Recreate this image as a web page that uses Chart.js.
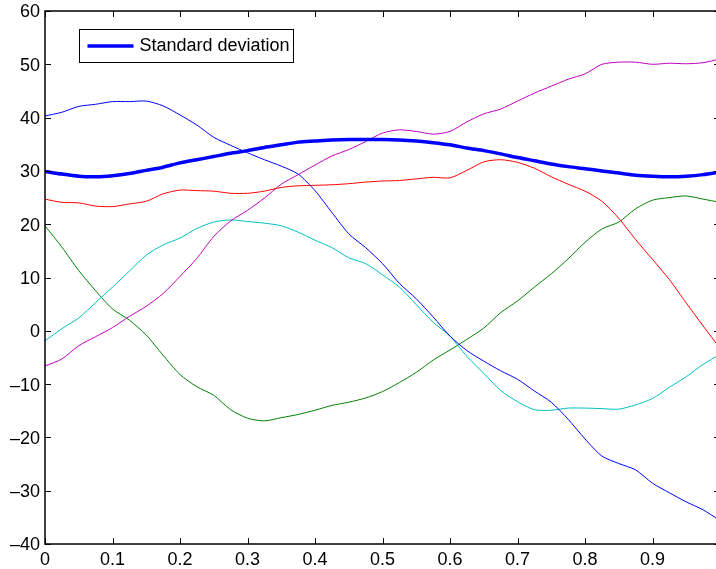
<!DOCTYPE html>
<html>
<head>
<meta charset="utf-8">
<script src="https://cdn.jsdelivr.net/npm/chart.js@4/dist/chart.umd.min.js"></script>
<style>
	html, body { margin: 0; padding: 0; background: #fff; }
	#wrap { position: relative; width: 716px; height: 569px; }
</style>
</head>
<body>
<div id="wrap"><canvas id="chart"></canvas></div>
<script>
const xValues = [0, 0.025, 0.05, 0.075, 0.1, 0.125, 0.15, 0.175, 0.2, 0.225, 0.25, 0.275, 0.3, 0.325, 0.35, 0.375, 0.4, 0.425, 0.45, 0.475, 0.5, 0.525, 0.55, 0.575, 0.6, 0.625, 0.65, 0.675, 0.7, 0.725, 0.75, 0.775, 0.8, 0.825, 0.85, 0.875, 0.9, 0.925, 0.95, 0.975, 1];

const stdDev = [29.9, 29.4, 29.0, 28.9, 29.1, 29.5, 30.1, 30.7, 31.5, 32.1, 32.7, 33.3, 33.8, 34.4, 34.9, 35.4, 35.6, 35.8, 35.9, 35.9, 35.9, 35.8, 35.6, 35.3, 34.9, 34.3, 33.8, 33.2, 32.5, 31.9, 31.3, 30.8, 30.4, 30.0, 29.6, 29.2, 29.0, 28.9, 29.0, 29.3, 29.8];
const blueSeries = [40.3, 41.0, 42.1, 42.5, 43.0, 43.0, 43.1, 42.2, 40.5, 38.6, 36.3, 34.8, 33.4, 32.1, 30.9, 29.4, 26.3, 22.2, 18.2, 15.6, 12.6, 8.9, 6.0, 2.6, -1.0, -3.7, -5.7, -7.5, -9.1, -11.3, -13.4, -16.6, -20.3, -23.5, -24.9, -26.1, -28.6, -30.4, -32.1, -33.6, -35.6];
const redSeries = [24.7, 24.1, 24.0, 23.4, 23.3, 23.8, 24.3, 25.7, 26.4, 26.3, 26.2, 25.8, 25.8, 26.2, 26.9, 27.2, 27.3, 27.4, 27.6, 27.9, 28.1, 28.2, 28.5, 28.8, 28.7, 30.1, 31.7, 32.1, 31.6, 30.5, 28.9, 27.5, 26.2, 24.3, 21.1, 17.1, 13.4, 9.6, 5.2, 0.9, -3.3];
const magentaSeries = [-6.6, -5.3, -2.8, -1.1, 0.6, 2.7, 4.6, 7.0, 10.2, 13.6, 17.7, 20.6, 22.6, 24.9, 27.5, 29.3, 31.1, 32.8, 34.0, 35.5, 37.1, 37.7, 37.4, 36.9, 37.4, 39.2, 40.7, 41.6, 43.1, 44.6, 45.9, 47.2, 48.2, 50.0, 50.4, 50.4, 50.0, 50.2, 50.1, 50.3, 51.0];
const cyanSeries = [-1.9, 0.4, 2.4, 5.3, 8.2, 11.2, 14.2, 16.1, 17.4, 19.2, 20.4, 20.8, 20.5, 20.2, 19.7, 18.5, 17.0, 15.6, 13.7, 12.6, 10.5, 8.2, 4.9, 1.6, -1.0, -4.8, -8.0, -11.2, -13.3, -14.8, -14.9, -14.5, -14.5, -14.6, -14.7, -13.9, -12.7, -10.6, -8.6, -6.3, -4.4];
const greenSeries = [19.7, 15.7, 11.3, 7.5, 4.1, 2.0, -0.8, -4.6, -8.2, -10.5, -12.1, -14.8, -16.4, -16.9, -16.3, -15.7, -14.9, -14.0, -13.4, -12.6, -11.4, -9.7, -7.8, -5.5, -3.6, -1.6, 0.5, 3.4, 5.6, 8.2, 10.7, 13.5, 16.6, 19.1, 20.4, 22.9, 24.5, 25.0, 25.3, 24.7, 24.1];

const legendLabel = 'Standard deviation';

const FONT = '"Liberation Sans", Arial, Helvetica, sans-serif';
const FONT_SIZE = 18;

const toPoints = values => xValues.map((x, i) => ({ x, y: values[i] }));

const line = (values, color, width = 1, label = '') => ({
	label,
	data: toPoints(values),
	borderColor: color,
	backgroundColor: color,
	borderWidth: width,
	pointRadius: 0,
	tension: 0.25,
	fill: false,
});

const fmt = v => String(Number(v.toFixed(2))).replace('-', '\u2013');

// matlab style box with inward ticks + legend inside the axes
// (the axes run to x = 1, a few px past the right edge of the window)
const matlabAxes = {
	id: 'matlabAxes',
	afterDraw(chart) {
		const { ctx, chartArea: a, scales: { x, y } } = chart;
		const right = x.getPixelForValue(1);
		ctx.save();
		ctx.strokeStyle = '#000';
		ctx.lineWidth = 1.5;
		ctx.strokeRect(a.left, a.top, right - a.left, a.bottom - a.top);
		ctx.lineWidth = 1;
		ctx.beginPath();
		x.ticks.forEach(t => {
			const px = Math.round(x.getPixelForValue(t.value)) + 0.5;
			ctx.moveTo(px, a.bottom);
			ctx.lineTo(px, a.bottom - 6);
			ctx.moveTo(px, a.top);
			ctx.lineTo(px, a.top + 6);
		});
		y.ticks.forEach(t => {
			const py = Math.round(y.getPixelForValue(t.value)) + 0.5;
			ctx.moveTo(a.left, py);
			ctx.lineTo(a.left + 6, py);
			ctx.moveTo(right, py);
			ctx.lineTo(right - 6, py);
		});
		ctx.stroke();

		// legend
		const lx = a.left + 34.5, ly = a.top + 18.5;
		ctx.fillStyle = '#fff';
		ctx.fillRect(lx, ly, 214, 33);
		ctx.lineWidth = 1;
		ctx.strokeRect(lx, ly, 214, 33);
		const ds = chart.data.datasets[0];
		ctx.strokeStyle = ds.borderColor;
		ctx.lineWidth = ds.borderWidth;
		ctx.beginPath();
		ctx.moveTo(lx + 8, ly + 16.5);
		ctx.lineTo(lx + 54, ly + 16.5);
		ctx.stroke();
		ctx.fillStyle = '#000';
		ctx.font = `${FONT_SIZE}px ${FONT}`;
		ctx.textBaseline = 'middle';
		ctx.textAlign = 'left';
		ctx.fillText(ds.label, lx + 60, ly + 17);
		ctx.restore();
	}
};

const main = () => {
	const ctx = document.querySelector('#chart').getContext('2d');
	new Chart(ctx, {
		type: 'line',
		data: {
			datasets: [
				line(stdDev, '#0000ff', 3.5, legendLabel),
				line(blueSeries, '#0000ff'),
				line(redSeries, '#ff0000'),
				line(magentaSeries, '#bf00bf'),
				line(cyanSeries, '#00bfbf'),
				line(greenSeries, '#008000'),
			]
		},
		options: {
			responsive: true,
			maintainAspectRatio: false,
			animation: false,
			layout: { padding: { top: 11, right: 0, bottom: 0, left: 0 } },
			plugins: {
				legend: { display: false },
				tooltip: { enabled: false },
			},
			scales: {
				x: {
					type: 'linear',
					min: 0,
					// visible part of the 0..1 axis inside the 716px window
					max: 0.994,
					afterFit: s => {
						s.height = 25;
						s.paddingLeft = 0;
						s.paddingRight = 0;
					},
					grid: { display: false, drawTicks: false },
					border: { display: false },
					ticks: {
						stepSize: 0.1,
						includeBounds: false,
						padding: 5,
						color: '#000',
						font: { family: FONT, size: FONT_SIZE },
						maxRotation: 0,
						autoSkip: false,
						callback: fmt,
					}
				},
				y: {
					min: -40,
					max: 60,
					afterFit: s => {
						s.width = 45;
						s.paddingTop = 0;
						s.paddingBottom = 0;
					},
					grid: { display: false, drawTicks: false },
					border: { display: false },
					ticks: {
						stepSize: 10,
						padding: 5,
						labelOffset: 1.5,
						color: '#000',
						font: { family: FONT, size: FONT_SIZE },
						callback: fmt,
					}
				}
			}
		},
		plugins: [matlabAxes]
	});
};
document.addEventListener('DOMContentLoaded', main);
</script>
</body>
</html>
